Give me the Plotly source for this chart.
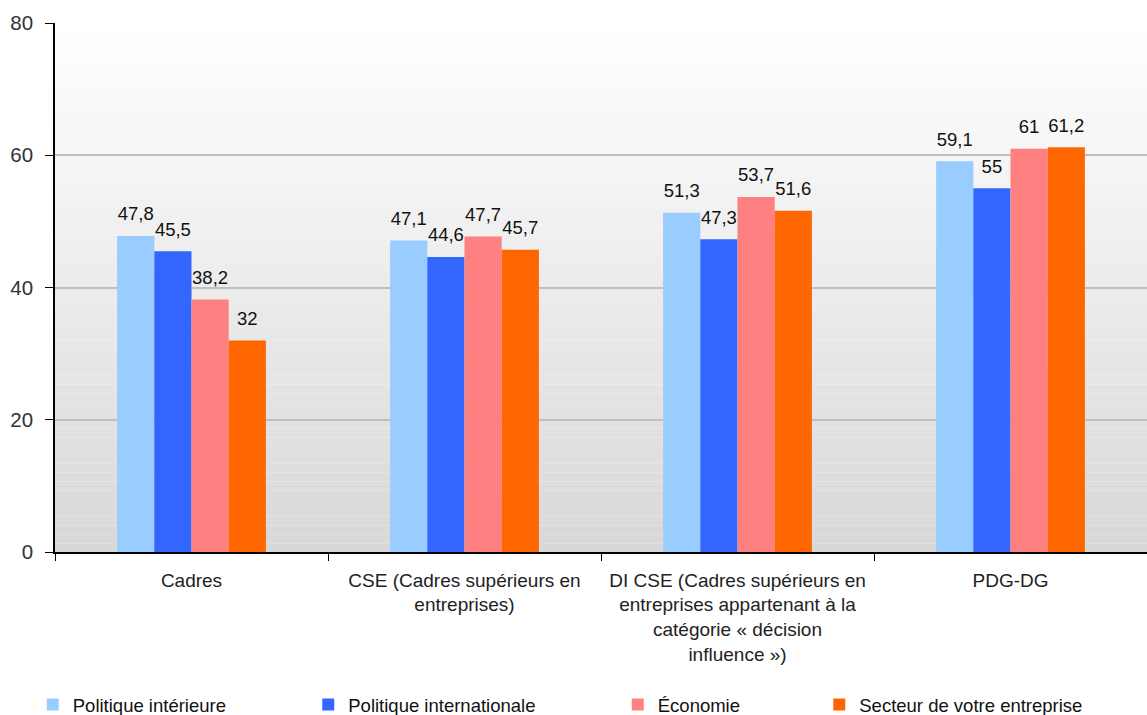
import plotly.graph_objects as go

categories = [
    "Cadres",
    "CSE (Cadres supérieurs en<br>entreprises)",
    "DI CSE (Cadres supérieurs en<br>entreprises appartenant à la<br>catégorie « décision<br>influence »)",
    "PDG-DG",
]
series_names = ["Politique intérieure", "Politique internationale", "Économie", "Secteur de votre entreprise"]
politique_interieure = [47.8, 47.1, 51.3, 59.1]
politique_internationale = [45.5, 44.6, 47.3, 55]
economie = [38.2, 47.7, 53.7, 61]
secteur = [32, 45.7, 51.6, 61.2]
colors = ["#99CCFF", "#3366FF", "#FF8080", "#FF6600"]
y_ticks = [0, 20, 40, 60, 80]

FONT = "Liberation Sans, Arial"
GAP = 0.455
W, H = 1147, 715

fig = go.Figure()
all_series = [politique_interieure, politique_internationale, economie, secteur]
legend_ids = ["legend", "legend2", "legend3", "legend4"]
for name, vals, col, lg in zip(series_names, all_series, colors, legend_ids):
    fig.add_trace(go.Bar(
        name=name, x=categories, y=vals, marker_color=col, marker_line_width=0,
        legend=lg,
    ))
# value labels, grouped like the bars
for name, vals in zip(series_names, all_series):
    fig.add_trace(go.Scatter(
        x=categories, y=vals, mode="markers+text", showlegend=False, hoverinfo="skip",
        marker=dict(size=16, opacity=0),
        text=[("%g" % v).replace(".", ",") for v in vals],
        textposition="top center", cliponaxis=False,
        textfont=dict(family=FONT, size=18.5, color="#111"),
    ))

# vertical gradient background
n = 60
shapes = []
for i in range(n):
    t = i / (n - 1)
    c = int(round(255 - (255 - 216) * t))
    shapes.append(dict(type="rect", xref="paper", yref="paper", x0=0, x1=1,
                       y0=1 - (i + 1) / n, y1=1 - i / n, layer="below",
                       fillcolor="rgb(%d,%d,%d)" % (c, c, c), line_width=0))

legend_style = dict(orientation="h", xref="container", xanchor="left",
                    y=-0.289, yanchor="middle", itemsizing="constant",
                    font=dict(family=FONT, size=18.5, color="#111"),
                    bgcolor="rgba(0,0,0,0)")
legend_left_px = [32.75, 308.25, 617.75, 819.25]

layout_legends = {lg: dict(legend_style, x=px / W) for lg, px in zip(legend_ids, legend_left_px)}

fig.update_layout(
    width=W, height=H,
    margin=dict(l=55, r=0, t=23, b=163, autoexpand=False),
    barmode="group", bargap=GAP, bargroupgap=0,
    scattermode="group", scattergap=GAP,
    paper_bgcolor="white", plot_bgcolor="white",
    shapes=shapes,
    font=dict(family=FONT, size=19, color="#222"),
    showlegend=True,
    xaxis=dict(showline=True, linecolor="black", linewidth=1.5,
               ticks="outside", tickson="boundaries", ticklen=7, tickcolor="black",
               ticklabelstandoff=10,
               tickfont=dict(family=FONT, size=19, color="#222"), showgrid=False),
    yaxis=dict(range=[0, 80], tickvals=y_ticks, showline=True, linecolor="black", linewidth=1.5,
               ticks="outside", ticklen=8, tickcolor="black", ticklabelstandoff=8,
               tickfont=dict(family=FONT, size=20.5, color="#333"),
               showgrid=True, gridcolor="#BFBFBF", gridwidth=1.5, zeroline=False),
    **layout_legends,
)
fig.write_html("out.html", config={"displayModeBar": False},
               post_script="document.body.style.margin='0';")
